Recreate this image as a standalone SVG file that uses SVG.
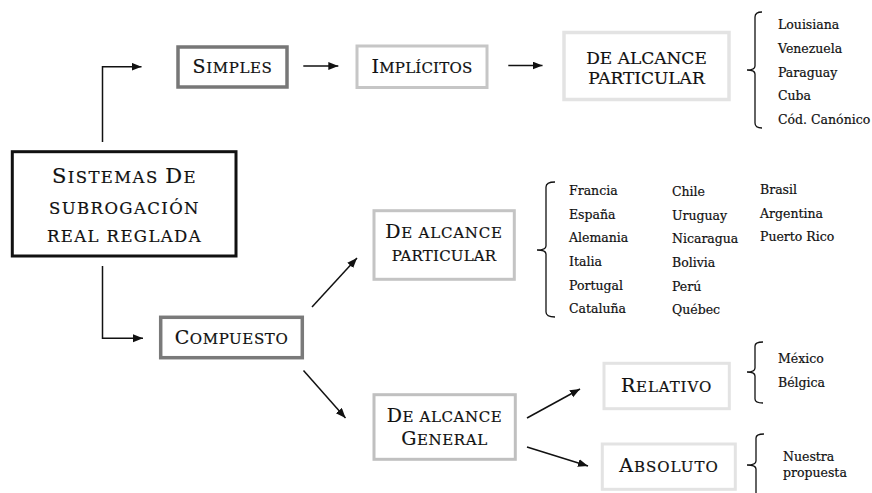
<svg xmlns="http://www.w3.org/2000/svg" width="872" height="493" viewBox="0 0 872 493">
<style>
text{font-family:"DejaVu Serif","Liberation Serif",serif;fill:#111;stroke:#111;stroke-width:0.2px}
.lbl{text-anchor:middle;font-size:15px;letter-spacing:0.6px}
.big{font-size:19px}
.main{text-anchor:middle;font-size:16.5px;letter-spacing:1.4px}
.mbig{font-size:21px}
.lst{font-size:12.5px}
.box{fill:#fff}
.con{fill:none;stroke:#111;stroke-width:1.5}
.brk{fill:none;stroke:#111;stroke-width:1.3}
</style>
<defs>
<marker id="ah" markerUnits="userSpaceOnUse" markerWidth="11" markerHeight="9" refX="10" refY="4" orient="auto">
<path d="M0,0 L10,4 L0,8 z" fill="#111"/>
</marker>
</defs>
<rect width="872" height="493" fill="#fff"/>

<g id="connectors">
<path class="con" d="M102.5,142 V66.7 H141.5" marker-end="url(#ah)"/>
<path class="con" d="M102.5,266 V338.3 H143" marker-end="url(#ah)"/>
<path class="con" d="M303.3,66 H338.3" marker-end="url(#ah)"/>
<path class="con" d="M508.3,65.5 H542.5" marker-end="url(#ah)"/>
<path class="con" d="M312,307 L357,258" marker-end="url(#ah)"/>
<path class="con" d="M303.5,370.5 L345.5,418" marker-end="url(#ah)"/>
<path class="con" d="M527,418 L580,389" marker-end="url(#ah)"/>
<path class="con" d="M527,447 L588,466" marker-end="url(#ah)"/>
</g>

<g id="sistemas">
<rect class="box" x="12.3" y="151.7" width="223.7" height="104.3" stroke="#111" stroke-width="3"/>
<text class="main" x="124.5" y="183"><tspan class="mbig">S</tspan>ISTEMAS <tspan class="mbig">D</tspan>E</text>
<text class="main" x="124.5" y="213.5">SUBROGACIÓN</text>
<text class="main" x="124.5" y="242">REAL REGLADA</text>
</g>

<g id="simples">
<rect class="box" x="178" y="47" width="109" height="40" stroke="#777" stroke-width="3.5"/>
<text class="lbl" x="232.5" y="73"><tspan class="big">S</tspan>IMPLES</text>
</g>

<g id="implicitos">
<rect class="box" x="357" y="46" width="130" height="41.5" stroke="#c6c6c6" stroke-width="3"/>
<text class="lbl" x="422" y="73" style="letter-spacing:0.2px"><tspan class="big">I</tspan>MPLÍCITOS</text>
</g>

<g id="particular-top">
<rect class="box" x="564" y="32.5" width="165" height="67" stroke="#e3e3e3" stroke-width="3.5"/>
<text x="646.5" y="63.5" text-anchor="middle" font-size="17">DE ALCANCE</text>
<text x="646.5" y="83.5" text-anchor="middle" font-size="17">PARTICULAR</text>
</g>

<g id="list-top">
<path class="brk" d="M762,12 Q755,12 755,17 V66 Q755,70 747,70 Q755,70 755,74 V123 Q755,128 762,128"/>
<text class="lst" x="778" y="29">Louisiana</text>
<text class="lst" x="778" y="52.8">Venezuela</text>
<text class="lst" x="778" y="76.6">Paraguay</text>
<text class="lst" x="778" y="100.4">Cuba</text>
<text class="lst" x="778" y="124.2">Cód. Canónico</text>
</g>

<g id="particular-mid">
<rect class="box" x="374" y="210.7" width="140.3" height="68.6" stroke="#c4c4c4" stroke-width="3"/>
<text class="lbl" x="444" y="238.3" style="letter-spacing:0.8px"><tspan class="big">D</tspan>E ALCANCE</text>
<text class="lbl" x="444" y="261" style="letter-spacing:0.2px">PARTICULAR</text>
</g>

<g id="list-mid">
<path class="brk" d="M555,182 Q546,182 546,187 V246 Q546,250 537,250 Q546,250 546,254 V312 Q546,317 555,317"/>
<text class="lst" x="569" y="195">Francia</text>
<text class="lst" x="569" y="218.7">España</text>
<text class="lst" x="569" y="242.3">Alemania</text>
<text class="lst" x="569" y="266">Italia</text>
<text class="lst" x="569" y="289.6">Portugal</text>
<text class="lst" x="569" y="313.3">Cataluña</text>
<text class="lst" x="672" y="196">Chile</text>
<text class="lst" x="672" y="219.7">Uruguay</text>
<text class="lst" x="672" y="243.3">Nicaragua</text>
<text class="lst" x="672" y="267">Bolivia</text>
<text class="lst" x="672" y="290.6">Perú</text>
<text class="lst" x="672" y="314.3">Québec</text>
<text class="lst" x="760" y="194">Brasil</text>
<text class="lst" x="760" y="217.7">Argentina</text>
<text class="lst" x="760" y="241.3">Puerto Rico</text>
</g>

<g id="compuesto">
<rect class="box" x="160.7" y="317.3" width="141.6" height="40.4" stroke="#7a7a7a" stroke-width="3.5"/>
<text class="lbl" x="231.5" y="344"><tspan class="big">C</tspan>OMPUESTO</text>
</g>

<g id="general">
<rect class="box" x="374" y="394.7" width="141.3" height="64.6" stroke="#c0c0c0" stroke-width="3"/>
<text class="lbl" x="444.5" y="422"><tspan class="big">D</tspan>E ALCANCE</text>
<text class="lbl" x="444.5" y="444.5"><tspan class="big">G</tspan>ENERAL</text>
</g>

<g id="relativo">
<rect class="box" x="604" y="363.3" width="125.3" height="45.4" stroke="#e3e3e3" stroke-width="3"/>
<text class="lbl" x="666.5" y="392" style="letter-spacing:0.9px"><tspan class="big">R</tspan>ELATIVO</text>
</g>

<g id="list-relativo">
<path class="brk" d="M763,342 Q755,342 755,346 V368 Q755,372 747,372 Q755,372 755,376 V399 Q755,403 763,403"/>
<text class="lst" x="778" y="363">México</text>
<text class="lst" x="778" y="387">Bélgica</text>
</g>

<g id="absoluto">
<rect class="box" x="602.3" y="444" width="133" height="45.3" stroke="#e3e3e3" stroke-width="3"/>
<text class="lbl" x="669" y="472" style="letter-spacing:1px"><tspan class="big">A</tspan>BSOLUTO</text>
</g>

<g id="list-absoluto">
<path class="brk" d="M764,434 Q756,434 756,438 V461 Q756,465 747,465 Q756,465 756,469 V500"/>
<text class="lst" x="783" y="461">Nuestra</text>
<text class="lst" x="783" y="477">propuesta</text>
</g>
</svg>
